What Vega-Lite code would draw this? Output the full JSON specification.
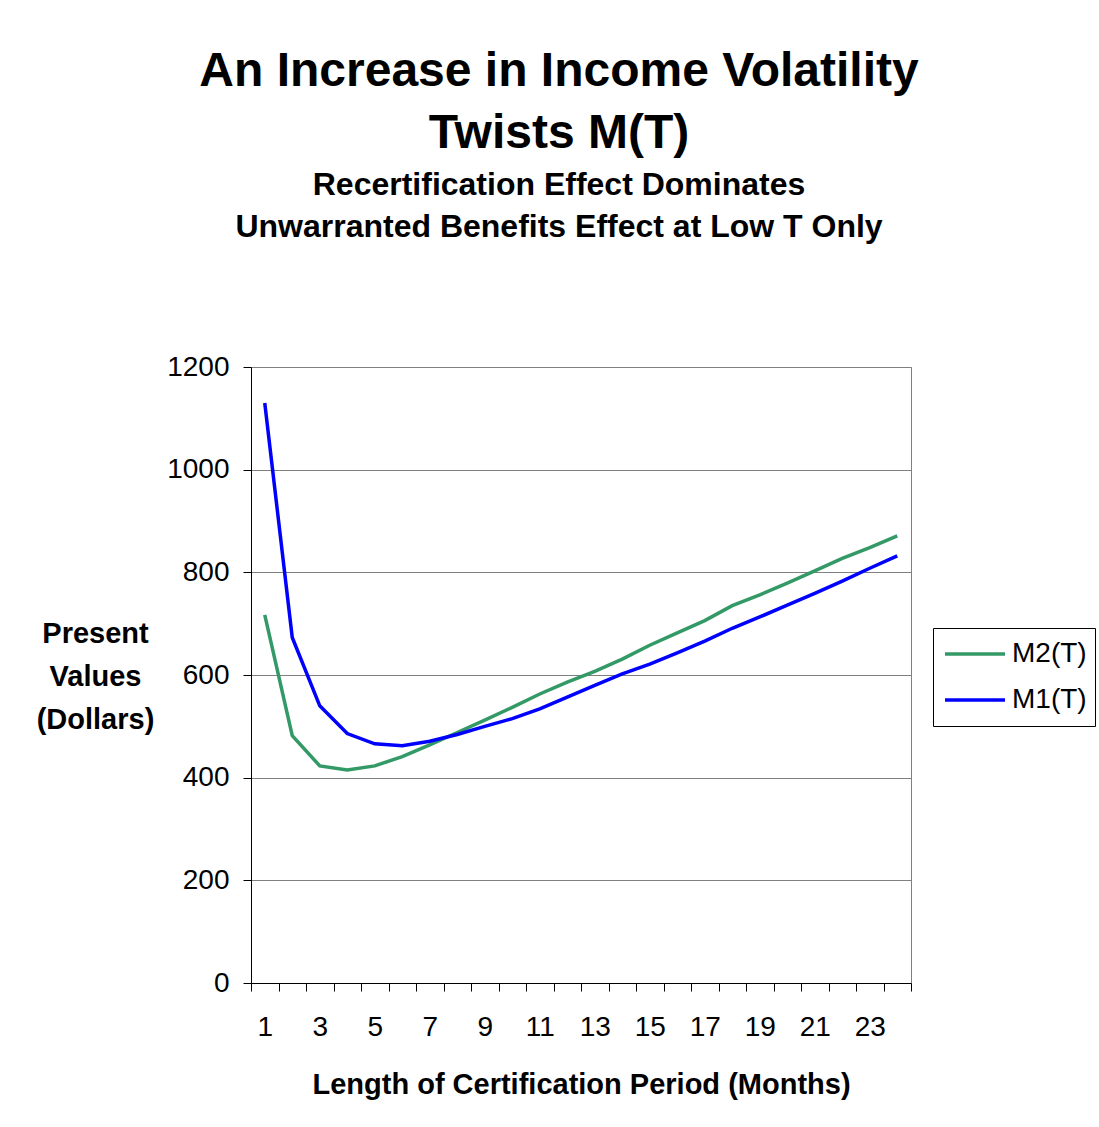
{
  "$schema": "https://vega.github.io/schema/vega-lite/v6.json",
  "width": 660,
  "height": 616,
  "autosize": {"type": "none"},
  "padding": {"left": 251, "top": 367, "right": 188, "bottom": 144},
  "background": "white",
  "config": {
    "font": "Liberation Sans",
    "view": {"stroke": "#808080", "strokeWidth": 1}
  },
  "title": {
    "text": ["An Increase in Income Volatility", "Twists M(T)"],
    "subtitle": ["Recertification Effect Dominates", "Unwarranted Benefits Effect at Low T Only"],
    "anchor": "middle",
    "frame": "group",
    "dx": -22,
    "offset": 110,
    "font": "Liberation Sans",
    "fontSize": 48,
    "fontWeight": "bold",
    "lineHeight": 62,
    "color": "black",
    "subtitleFont": "Liberation Sans",
    "subtitleFontSize": 32,
    "subtitleFontWeight": "bold",
    "subtitleLineHeight": 42,
    "subtitlePadding": 12,
    "subtitleColor": "black"
  },
  "data": {
    "values": [
      {"T": 1, "series": "M2(T)", "value": 717},
      {"T": 2, "series": "M2(T)", "value": 482},
      {"T": 3, "series": "M2(T)", "value": 423},
      {"T": 4, "series": "M2(T)", "value": 415},
      {"T": 5, "series": "M2(T)", "value": 423},
      {"T": 6, "series": "M2(T)", "value": 441},
      {"T": 7, "series": "M2(T)", "value": 464},
      {"T": 8, "series": "M2(T)", "value": 488},
      {"T": 9, "series": "M2(T)", "value": 512},
      {"T": 10, "series": "M2(T)", "value": 537},
      {"T": 11, "series": "M2(T)", "value": 563},
      {"T": 12, "series": "M2(T)", "value": 586},
      {"T": 13, "series": "M2(T)", "value": 607},
      {"T": 14, "series": "M2(T)", "value": 631},
      {"T": 15, "series": "M2(T)", "value": 658},
      {"T": 16, "series": "M2(T)", "value": 682},
      {"T": 17, "series": "M2(T)", "value": 706},
      {"T": 18, "series": "M2(T)", "value": 735},
      {"T": 19, "series": "M2(T)", "value": 756},
      {"T": 20, "series": "M2(T)", "value": 779},
      {"T": 21, "series": "M2(T)", "value": 803},
      {"T": 22, "series": "M2(T)", "value": 827},
      {"T": 23, "series": "M2(T)", "value": 848},
      {"T": 24, "series": "M2(T)", "value": 871},
      {"T": 1, "series": "M1(T)", "value": 1130},
      {"T": 2, "series": "M1(T)", "value": 673},
      {"T": 3, "series": "M1(T)", "value": 540},
      {"T": 4, "series": "M1(T)", "value": 486},
      {"T": 5, "series": "M1(T)", "value": 466},
      {"T": 6, "series": "M1(T)", "value": 462},
      {"T": 7, "series": "M1(T)", "value": 471},
      {"T": 8, "series": "M1(T)", "value": 484},
      {"T": 9, "series": "M1(T)", "value": 500},
      {"T": 10, "series": "M1(T)", "value": 515},
      {"T": 11, "series": "M1(T)", "value": 534},
      {"T": 12, "series": "M1(T)", "value": 557},
      {"T": 13, "series": "M1(T)", "value": 580},
      {"T": 14, "series": "M1(T)", "value": 602},
      {"T": 15, "series": "M1(T)", "value": 621},
      {"T": 16, "series": "M1(T)", "value": 643},
      {"T": 17, "series": "M1(T)", "value": 666},
      {"T": 18, "series": "M1(T)", "value": 691},
      {"T": 19, "series": "M1(T)", "value": 713},
      {"T": 20, "series": "M1(T)", "value": 736},
      {"T": 21, "series": "M1(T)", "value": 759},
      {"T": 22, "series": "M1(T)", "value": 783},
      {"T": 23, "series": "M1(T)", "value": 808},
      {"T": 24, "series": "M1(T)", "value": 832}
    ]
  },
  "mark": {"type": "line", "strokeWidth": 3.5},
  "encoding": {
    "x": {
      "field": "T",
      "type": "ordinal",
      "bandPosition": 0.5,
      "scale": {"type": "band", "paddingInner": 0, "paddingOuter": 0},
      "axis": {
        "title": "Length of Certification Period (Months)",
        "titleFont": "Liberation Sans",
        "titleFontSize": 29,
        "titleFontWeight": "bold",
        "titleColor": "black",
        "titlePadding": 29,
        "labelExpr": "datum.value % 2 == 1 ? datum.label : ''",
        "labelAngle": 0,
        "labelOverlap": false,
        "labelFont": "Liberation Sans",
        "labelFontSize": 28,
        "labelColor": "black",
        "labelPadding": 22,
        "tickBand": "extent",
        "tickSize": 8,
        "tickColor": "black",
        "domainColor": "black",
        "grid": false
      }
    },
    "y": {
      "field": "value",
      "type": "quantitative",
      "scale": {"domain": [0, 1200], "nice": false, "zero": true},
      "axis": {
        "values": [0, 200, 400, 600, 800, 1000, 1200],
        "format": "d",
        "title": ["Present", "Values", "(Dollars)"],
        "titleAngle": 0,
        "titleAlign": "center",
        "titleBaseline": "top",
        "titleX": -156,
        "titleY": 252,
        "titleFont": "Liberation Sans",
        "titleFontSize": 29,
        "titleFontWeight": "bold",
        "titleColor": "black",
        "titleLineHeight": 43,
        "labelFont": "Liberation Sans",
        "labelFontSize": 28,
        "labelColor": "black",
        "labelPadding": 14,
        "tickSize": 8,
        "tickColor": "black",
        "domainColor": "black",
        "grid": true,
        "gridColor": "#808080",
        "gridWidth": 1
      }
    },
    "color": {
      "field": "series",
      "type": "nominal",
      "scale": {"domain": ["M2(T)", "M1(T)"], "range": ["#339966", "#0000ff"]},
      "legend": {
        "title": null,
        "orient": "none",
        "legendX": 682,
        "legendY": 261,
        "padding": 8,
        "strokeColor": "black",
        "fillColor": "white",
        "symbolType": "stroke",
        "symbolSize": 3600,
        "symbolStrokeWidth": 3.5,
        "symbolOffset": 2,
        "clipHeight": 36,
        "labelFont": "Liberation Sans",
        "labelFontSize": 28,
        "labelColor": "black",
        "labelOffset": 5,
        "rowPadding": 10
      }
    }
  }
}
